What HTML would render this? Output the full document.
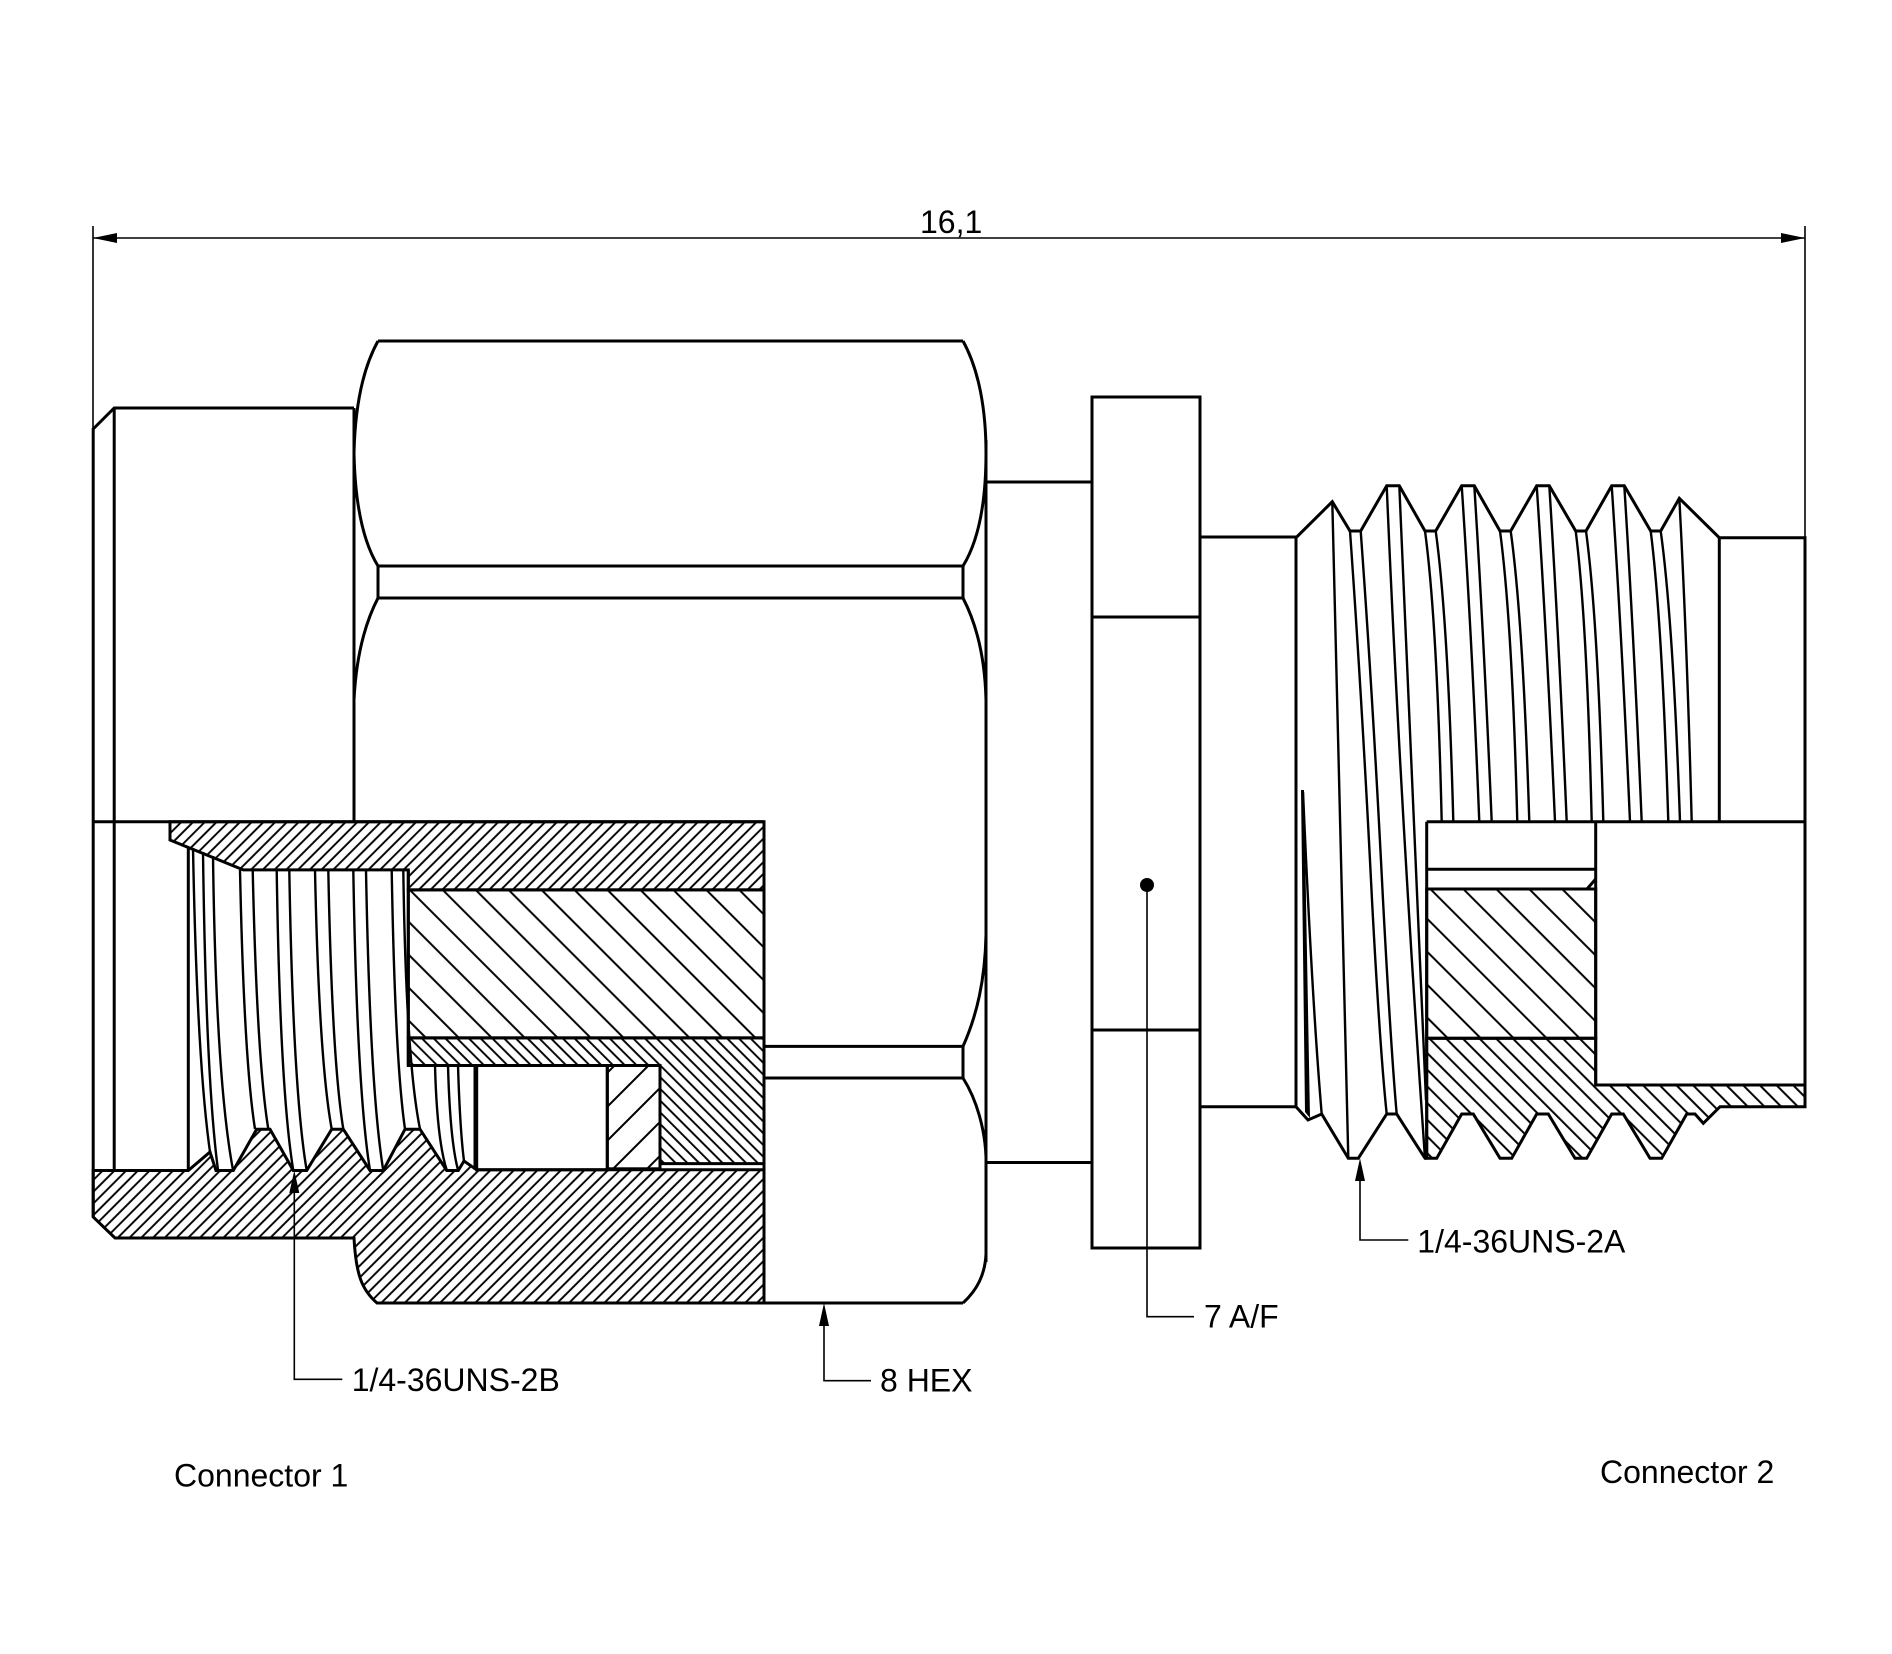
<!DOCTYPE html>
<html><head><meta charset="utf-8"><style>
html,body{margin:0;padding:0;background:#fff;}
svg{display:block;}
text{font-family:"Liberation Sans",Arial,sans-serif;font-size:32px;fill:#000;}
</style></head><body>
<svg width="1892" height="1654" viewBox="0 0 1892 1654" xmlns="http://www.w3.org/2000/svg">
<defs>
<pattern id="hA" width="8.3" height="40" patternUnits="userSpaceOnUse" patternTransform="rotate(45)"><line x1="4" y1="-2" x2="4" y2="42" stroke="#000" stroke-width="1.9"/></pattern>
<pattern id="hB" width="23.3" height="40" patternUnits="userSpaceOnUse" patternTransform="rotate(-45)"><line x1="10" y1="-2" x2="10" y2="42" stroke="#000" stroke-width="2"/></pattern>
<pattern id="hC" width="8.3" height="40" patternUnits="userSpaceOnUse" patternTransform="rotate(-45)"><line x1="4" y1="-2" x2="4" y2="42" stroke="#000" stroke-width="1.9"/></pattern>
<pattern id="hD" width="24" height="40" patternUnits="userSpaceOnUse" patternTransform="rotate(45)"><line x1="12" y1="-2" x2="12" y2="42" stroke="#000" stroke-width="2"/></pattern>
<pattern id="hE" width="11.8" height="40" patternUnits="userSpaceOnUse" patternTransform="rotate(-45)"><line x1="5" y1="-2" x2="5" y2="42" stroke="#000" stroke-width="2"/></pattern>
</defs>
<rect width="1892" height="1654" fill="#fff"/>

<!-- Dimension -->
<g stroke="#000" stroke-width="1.6" fill="none">
<line x1="93" y1="238" x2="1805" y2="238"/>
<line x1="93" y1="226" x2="93" y2="430"/>
<line x1="1805" y1="226" x2="1805" y2="538"/>
</g>
<polygon points="93,238 117,233 117,243" fill="#000"/>
<polygon points="1805,238 1781,233 1781,243" fill="#000"/>
<text x="920" y="233">16,1</text>

<!-- Hatched section regions connector 1 -->
<g stroke="#000" stroke-width="3" stroke-linejoin="miter">
<path d="M170,821.7 L764,821.7 L764,889.9 L408.3,889.9 L408.3,869.9 L243.3,869.9 L170,840 Z" fill="url(#hA)"/>
<rect x="408.3" y="889.9" width="355.7" height="148" fill="url(#hB)"/>
<path d="M408.3,1037.9 L764,1037.9 L764,1163.6 L660,1163.6 L660,1065.5 L408.3,1065.5 Z" fill="url(#hC)"/>
<rect x="607.3" y="1065.5" width="52.7" height="103.3" fill="url(#hD)"/>
<rect x="476.7" y="1065.5" width="130.6" height="104.3" fill="none"/>
<path d="M93.2,1170.5 L188.3,1170.5 L210,1152 L216,1170.5 L233.3,1170.5 L256.7,1129.2 L270,1129.2 L293.3,1170.5 L306.7,1170.5 L331.7,1129.2 L343.3,1129.2 L370,1170.5 L383.3,1170.5 L405,1129.2 L420,1129.2 L446.7,1170.5 L458.3,1170.5 L464,1161 L476.7,1169.8 L764,1169.8 L764,1303 L377,1303 C362,1290 356,1275 354,1238 L115,1238 L93.2,1217 Z" fill="url(#hA)"/>
</g>

<!-- Connector 1 outline -->
<g stroke="#000" stroke-width="3" fill="none">
<path d="M93.2,1217 V429 L114.2,408 H354"/>
<path d="M114.2,408 V1170.5"/>
<path d="M93.2,821.7 H764"/>
<path d="M188.3,846.8 V1170.5"/>
<path d="M408.3,869.9 V1065.5"/>
<path d="M475,1065.5 V1169.8"/>
</g>

<!-- Internal thread lines connector 1 -->
<g stroke="#000" stroke-width="2.4" fill="none">
<path d="M193,848 Q197,1060 210,1152"/>
<path d="M203,852 Q206,1080 218,1170"/>
<path d="M213,856 Q216,1080 233,1170"/>
<path d="M240,870 Q244,1060 255,1129"/>
<path d="M252.7,870 Q257,1060 268.3,1129"/>
<path d="M276.7,870 Q280,1090 293.3,1170.5"/>
<path d="M289.3,870 Q293,1090 306.7,1170.5"/>
<path d="M315,870 Q319,1060 331.7,1129"/>
<path d="M328.3,870 Q332,1060 343.3,1129"/>
<path d="M353.3,870 Q357,1090 370,1170.5"/>
<path d="M366,870 Q370,1090 383.3,1170.5"/>
<path d="M391.7,870 Q395,1060 405,1129"/>
<path d="M403.3,870 Q406,1060 420,1129"/>
<path d="M435,1065.5 Q437,1140 446.7,1170"/>
<path d="M448,1065.5 Q450,1140 458,1170"/>
<path d="M458,1065.5 Q460,1130 464,1161"/>
</g>

<!-- Hex nut -->
<g stroke="#000" stroke-width="3" fill="none">
<path d="M378,341 H963"/>
<path d="M378,341 C362,370 355,410 354,453 C355,500 362,540 378,566"/>
<path d="M963,341 C979,370 986,410 986,453 C986,500 979,540 963,566"/>
<path d="M378,566 H963 M378,598 H963 M378,566 V598 M963,566 V598"/>
<path d="M378,598 C364,625 356,660 354,700"/>
<path d="M354,408 V821.7"/>
<path d="M963,598 C977,625 985,660 986,700"/>
<path d="M986,935 C985,980 977,1015 963,1046.4"/>
<path d="M986,440 V1262"/>
<path d="M764,1046.4 H963 M764,1078 H963 M963,1046.4 V1078"/>
<path d="M963,1078 C977,1100 985,1130 986,1157"/>
<path d="M986,1254 C985,1275 977,1290 963,1303"/>
<path d="M764,1303 H963"/>
<path d="M764,821.7 V1303"/>
<path d="M986,482 H1092 M986,1162.5 H1092"/>
</g>

<!-- Flange -->
<g stroke="#000" stroke-width="3" fill="none">
<rect x="1092" y="397" width="108" height="851"/>
<path d="M1092,617 H1200 M1092,1030 H1200"/>
<path d="M1200,537 H1296.7 M1200,1106.7 H1296"/>
</g>
<circle cx="1147" cy="885" r="7" fill="#000"/>

<!-- Right section hatches -->
<g stroke="#000" stroke-width="3">
<rect x="1426.7" y="889" width="169" height="149.3" fill="url(#hB)"/>
<path d="M1426.7,1038.3 L1595.7,1038.3 L1595.7,1085 L1805,1085 L1805,1106.7 L1720,1106.7 L1703.3,1123.3 L1695,1114 L1686.7,1114 L1661.7,1158.3 L1650,1158.3 L1623.3,1114 L1611.7,1114 L1586.7,1158.3 L1575,1158.3 L1548.3,1114 L1536.7,1114 L1511.7,1158.3 L1500,1158.3 L1473.3,1114 L1461.7,1114 L1436.7,1158.3 L1426.7,1158.3 Z" fill="url(#hE)"/>
</g>

<!-- Right body outline -->
<g stroke="#000" stroke-width="3" fill="none" stroke-linejoin="miter">
<path d="M1296.7,537 L1332.3,501.7 L1350,531 L1360.7,531 L1386.7,485.7 L1399.3,485.7 L1425,531 L1435.7,531 L1461.7,485.7 L1474.3,485.7 L1500,531 L1510.7,531 L1536.7,485.7 L1549.3,485.7 L1575.7,531 L1586,531 L1611.7,485.7 L1624.3,485.7 L1650.7,531 L1660.7,531 L1679.3,498.3 L1719.3,537.7 H1805 V1106.7"/>
<path d="M1296,537 V1106.7"/>
<path d="M1296,1106.7 L1308,1120 L1321.7,1114 L1348.3,1158.3 L1358.3,1158.3 L1386.7,1114 L1396.7,1114 L1425,1158.3 L1426.7,1158.3"/>
<path d="M1719.3,537.7 V821.7"/>
<path d="M1426.7,821.7 H1805"/>
<path d="M1426.7,821.7 V1158.3"/>
<path d="M1595.7,821.7 V1085"/>
<path d="M1426.7,869.3 H1595.7"/>
<path d="M1426.7,889 H1587 L1595.7,879"/>
</g>
<polygon points="1301,790 1304,790 1310,1118 1305,1112" fill="#000"/>

<!-- External thread lines -->
<g stroke="#000" stroke-width="2.4" fill="none">
<path d="M1303,792 Q1312,1000 1321.7,1114"/>
<path d="M1332.3,501.7 Q1340,800 1348.3,1158.3"/>
<path d="M1350,531 Q1362,700 1372,900 Q1380,1050 1386.7,1114"/>
<path d="M1360.7,531 Q1373,700 1383,900 Q1391,1050 1396.7,1114"/>
<path d="M1386.7,485.7 Q1400,800 1425,1158.3"/>
<path d="M1399.3,485.7 Q1412,800 1426,1100"/>
<path d="M1425,531 Q1437,620 1441.7,821.7"/>
<path d="M1435.7,531 Q1448,620 1453.3,821.7"/>
<path d="M1461.7,485.7 Q1472,640 1479.3,821.7"/>
<path d="M1474.3,485.7 Q1484,640 1491.7,821.7"/>
<path d="M1500,531 Q1512,620 1517.3,821.7"/>
<path d="M1510.7,531 Q1523,620 1529.3,821.7"/>
<path d="M1536.7,485.7 Q1547,640 1555,821.7"/>
<path d="M1549.3,485.7 Q1559,640 1566.7,821.7"/>
<path d="M1575.7,531 Q1587,620 1591.7,821.7"/>
<path d="M1586,531 Q1598,620 1603.3,821.7"/>
<path d="M1611.7,485.7 Q1622,640 1630,821.7"/>
<path d="M1624.3,485.7 Q1634,640 1641.7,821.7"/>
<path d="M1650.7,531 Q1662,620 1668.3,821.7"/>
<path d="M1660.7,531 Q1673,620 1680,821.7"/>
<path d="M1679.3,498.3 Q1687,640 1691.7,821.7"/>
</g>

<!-- Leaders -->
<g stroke="#000" stroke-width="1.6" fill="none">
<path d="M294.3,1190 V1379.3 H342.3"/>
<path d="M824,1324 V1380.7 H871"/>
<path d="M1147,885 V1316.7 H1194"/>
<path d="M1360,1178 V1240 H1408.3"/>
</g>
<polygon points="294.3,1170.5 289.3,1193 299.3,1193" fill="#000"/>
<polygon points="824,1303 819,1326 829,1326" fill="#000"/>
<polygon points="1360,1158.3 1355,1181 1365,1181" fill="#000"/>

<text x="351.7" y="1391">1/4-36UNS-2B</text>
<text x="880" y="1391.7">8 HEX</text>
<text x="1204" y="1327.3">7 A/F</text>
<text x="1417.3" y="1252.3">1/4-36UNS-2A</text>
<text x="174" y="1486.7">Connector 1</text>
<text x="1600" y="1483">Connector 2</text>
</svg>
</body></html>
